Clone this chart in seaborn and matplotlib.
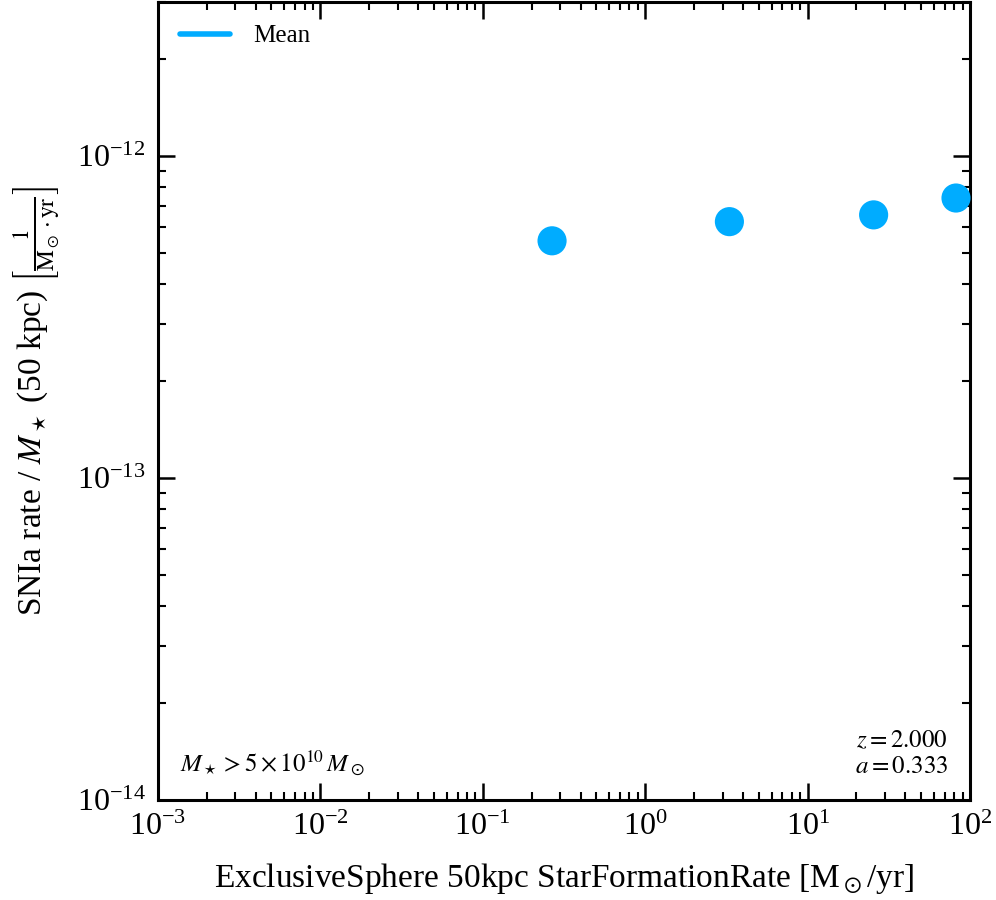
import pandas as pd
import numpy as np
import matplotlib
matplotlib.use('Agg')
import matplotlib.pyplot as plt
import seaborn as sns
from matplotlib.lines import Line2D
from matplotlib.ticker import FixedLocator

# binned mean values
sfr = [0.267, 3.3, 25.5, 82.0]
snia_rate = [5.45e-13, 6.25e-13, 6.56e-13, 7.4e-13]

point_color = '#00acff'


def main():
    df = pd.DataFrame({'sfr': sfr, 'rate': snia_rate})

    sns.set_style('ticks')
    plt.rcParams['font.family'] = ['Liberation Serif', 'DejaVu Serif']
    plt.rcParams['mathtext.fontset'] = 'stix'
    plt.rcParams['text.color'] = 'black'
    plt.rcParams['axes.labelcolor'] = 'black'

    fig = plt.figure(figsize=(9.96, 9.0), dpi=100)
    ax = fig.add_axes([0.1586, 0.1111, 0.8153, 0.8864])

    sns.scatterplot(x='sfr', y='rate', data=df, ax=ax, s=440,
                    color=point_color, edgecolor='none', clip_on=False,
                    zorder=5, legend=False)

    ax.set_xscale('log')
    ax.set_yscale('log')
    ax.set_xlim(1e-3, 1e2)
    ax.set_ylim(1e-14, 3e-12)

    # only ticks inside the view range
    xdec = [-3, -2, -1, 0, 1, 2]
    ydec = [-14, -13, -12]
    ax.xaxis.set_major_locator(FixedLocator([10.0 ** d for d in xdec]))
    ax.xaxis.set_minor_locator(FixedLocator([m * 10.0 ** d for d in xdec[:-1] for m in range(2, 10)]))
    ax.yaxis.set_major_locator(FixedLocator([10.0 ** d for d in ydec]))
    ax.yaxis.set_minor_locator(FixedLocator([m * 10.0 ** d for d in ydec for m in range(2, 10)
                                             if m * 10.0 ** d <= 3e-12]))

    for sp in ax.spines.values():
        sp.set_linewidth(2.2)
        sp.set_color('black')
    ax.tick_params(which='both', direction='in', top=True, right=True,
                   colors='black', labelcolor='black')
    ax.tick_params(which='major', length=12, width=1.8, labelsize=23, pad=9)
    ax.tick_params(which='minor', length=6, width=1.5)

    ax.set_xlabel(r'ExclusiveSphere 50kpc StarFormationRate [M$_\odot$/yr]', fontsize=24, labelpad=14)
    ax.set_ylabel(r'SNIa rate / $M_\star$ (50 kpc) $\left[\mathrm{\frac{1}{M_\odot \cdot yr}}\right]$',
                  fontsize=24, labelpad=10)

    handle = Line2D([], [], color=point_color, lw=4)
    ax.legend([handle], ['Mean'], loc='upper left', frameon=False, fontsize=18,
              handlelength=2.0, handletextpad=0.9, borderaxespad=0.5)

    ax.text(0.027, 0.027, r'$M_\star > 5\times10^{10}\,M_\odot$', transform=ax.transAxes,
            fontsize=18, ha='left', va='bottom')
    ax.text(0.973, 0.027, '$z = 2.000$\n$a = 0.333$', transform=ax.transAxes,
            fontsize=18, ha='right', va='bottom', linespacing=1.25)

    fig.savefig('out.png', dpi=100)


if __name__ == '__main__':
    main()
